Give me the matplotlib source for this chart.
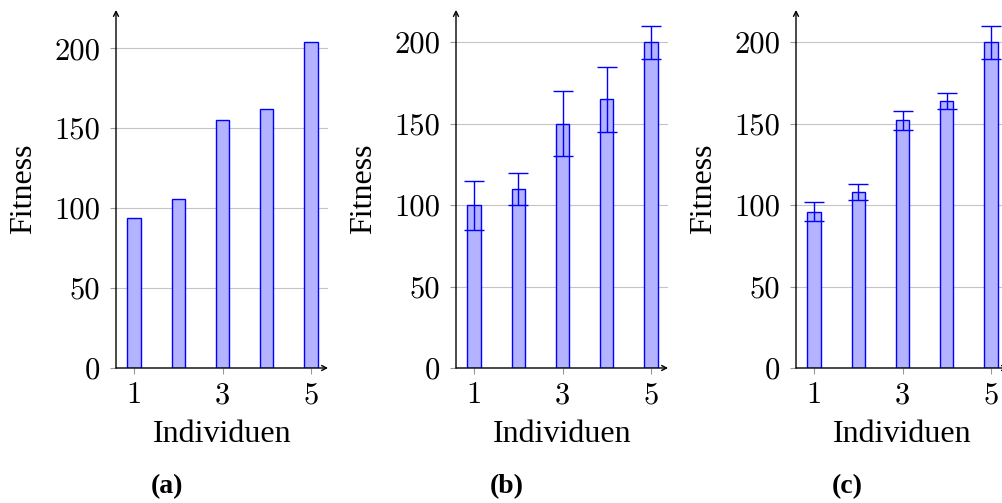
import matplotlib
matplotlib.use('Agg')
import matplotlib.pyplot as plt

# data
individuen = [1, 2, 3, 4, 5]
fit_a = [94, 106, 155, 162, 204]
fit_b = [100, 110, 150, 165, 200]
err_b_lo = [15, 10, 20, 20, 10]
err_b_hi = [15, 10, 20, 20, 10]
fit_c = [96, 108, 152, 164, 200]
err_c_lo = [6, 5, 6, 5, 10]
err_c_hi = [6, 5, 6, 5, 10]
yticks = [0, 50, 100, 150, 200]
xticks = [1, 3, 5]
captions = ['(a)', '(b)', '(c)']

W, H = 1003., 503.
fig = plt.figure(figsize=(W / 100, H / 100), dpi=100)

fill = '#b3b3ff'
edge = '#0000ff'
lbl_font = 'Liberation Serif'
tick_font = 'cmr10'

panels = [(fit_a, None, None, 224.0),
          (fit_b, err_b_lo, err_b_hi, 219.8),
          (fit_c, err_c_lo, err_c_hi, 219.8)]

for i, (vals, elo, ehi, ymax) in enumerate(panels):
    off = 340 * i
    x0, x1 = 116 + off, 328 + off
    ax = fig.add_axes([x0 / W, 1 - 368 / H, (x1 - x0) / W, (368 - 10) / H])
    ax.set_xlim(0.593, 5.384)
    ax.set_ylim(0, ymax)
    ax.set_axisbelow(True)
    ax.yaxis.grid(True, color='#c4c4c4', lw=0.8)

    ax.bar(individuen, vals, width=0.3, color=fill, edgecolor=edge,
           linewidth=1.0, zorder=2)
    if elo is not None:
        ax.errorbar(individuen, vals, yerr=[elo, ehi], fmt='none',
                    ecolor=edge, elinewidth=1.0, capsize=7,
                    capthick=1.0, zorder=3)

    for s in ax.spines.values():
        s.set_visible(False)
    ax.annotate('', xy=(0, 1), xytext=(0, 0), xycoords='axes fraction',
                arrowprops=dict(arrowstyle='->,head_length=0.35,head_width=0.18',
                                lw=1.0, color='black', shrinkA=0, shrinkB=0))
    ax.annotate('', xy=(1, 0), xytext=(0, 0), xycoords='axes fraction',
                arrowprops=dict(arrowstyle='->,head_length=0.35,head_width=0.18',
                                lw=1.0, color='black', shrinkA=0, shrinkB=0))

    ax.set_yticks(yticks)
    ax.set_xticks(xticks)
    ax.set_yticklabels([str(t) for t in yticks], fontfamily=tick_font,
                       fontsize=22)
    ax.set_xticklabels([str(t) for t in xticks], fontfamily=tick_font,
                       fontsize=22)
    ax.tick_params(axis='y', direction='out', length=4.5, width=0.8,
                   color='#999999', pad=7)
    ax.tick_params(axis='x', direction='out', length=4, width=0.8,
                   color='#999999', pad=6)

    fig.text(24 / W + off / W, 1 - 189 / H, 'Fitness', rotation=90,
             ha='center', va='center', fontfamily=lbl_font, fontsize=23)
    fig.text((x0 + x1) / 2 / W, 1 - 442 / H, 'Individuen', ha='center',
             va='baseline', fontfamily=lbl_font, fontsize=23)
    fig.text((167 + off) / W, 1 - 487 / H, captions[i], ha='center',
             va='center', fontfamily=lbl_font, fontsize=20,
             fontweight='bold')

fig.savefig('out.png', dpi=100)
